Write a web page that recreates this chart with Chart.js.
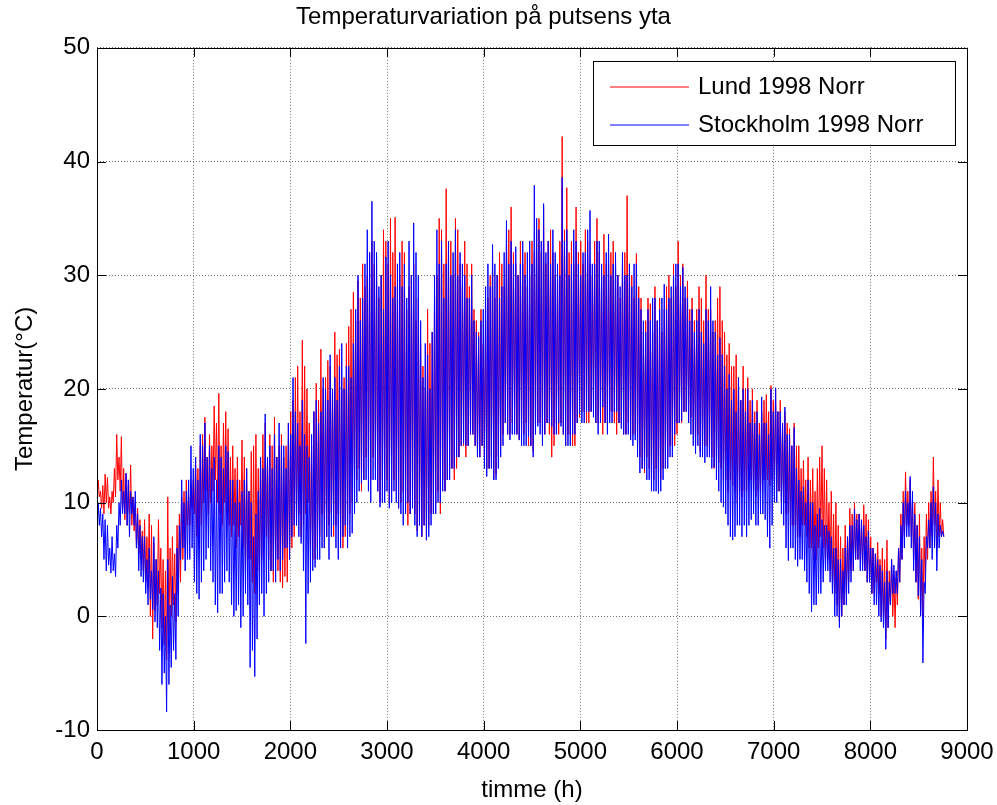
<!DOCTYPE html>
<html>
<head>
<meta charset="utf-8">
<script src="https://cdn.jsdelivr.net/npm/chart.js@4.4.1/dist/chart.umd.min.js"></script>
<style>
    html, body { margin: 0; padding: 0; background: #fff; }
    canvas { display: block; }
</style>
</head>
<body>
<canvas id="chart" width="997" height="805"></canvas>
<script>
const stepHours = 12;

const lund = [
    10, 12, 10.5, 11, 9.5, 11.5, 9, 12.5, 10, 12.2, 9.5, 10.5, 9, 11, 10, 13, 10.5, 16, 12, 14,
    11, 15.8, 9, 13, 8.5, 12.5, 8, 11.5, 9, 13.3, 8, 10.5, 7.5, 10, 6, 9.5, 5.5, 8.5, 5, 7.5,
    4, 8.5, 3, 7, 2.5, 9, 0, 8, -2, 6.5, 0.5, 5, 1, 8.5, 2, 6, -1, 5, -2.5, 4,
    -3.8, 10.5, -1.5, 6, 0, 7, 1, 5.5, -0.5, 8, 2, 9, 3, 10.5, 5, 11, 6, 12, 8, 10.5,
    8, 11.5, 9.5, 12, 9, 14, 7, 13, 6, 15, 8, 16, 10, 17.5, 11, 14, 9, 16, 10, 15,
    11, 18.5, 12, 17, 10, 19.6, 9, 15, 8, 17, 10, 18, 9, 16.5, 8, 14, 7, 15, 8, 13,
    6, 14, 7, 12, 8, 15.5, 6, 14, 4, 13, 5, 11, 5, 14.5, 3, 15, 2, 16, 4, 13,
    4, 14, 5, 16, 6, 17, 7, 14, 5, 16, 4, 15, 3, 17.5, 5, 14, 4, 15, 3, 16,
    2.5, 14, 3.5, 15, 3, 17, 5, 18, 6, 19, 7, 21, 8, 22, 9, 18, 7, 24.3, 8, 22,
    9, 20, 10, 17, 6, 15, 5, 18, 5, 20.5, 6, 19, 7, 23.5, 9, 20, 6, 21, 7, 22.5,
    8, 22, 9, 20, 7, 25, 8, 23, 9, 23.5, 7, 20, 6, 21, 7, 24, 8, 25.5, 9, 27,
    10, 28.5, 12, 26, 12, 29.5, 13, 28, 11, 31, 12, 29, 14, 30, 13, 32, 12, 33, 14, 31,
    13, 31, 11, 28, 10, 30, 12, 34, 11, 33, 12, 31, 10, 35, 11, 32, 12, 35.1, 11, 29,
    9.5, 30, 10, 33, 11, 32, 9, 27, 8, 29, 9, 30, 10, 31, 9, 26, 7.5, 28, 8, 24,
    7, 22, 8, 20, 6.7, 27, 8, 24, 9, 25, 9, 28, 10, 30, 11, 35, 9, 34, 12, 31,
    11, 37.6, 12, 32, 13, 33, 13, 30, 12, 35, 13, 34, 14, 31, 15, 29, 15, 33, 14, 31,
    15, 29, 16, 31, 16, 27, 15, 26, 14, 25, 14, 27, 15, 24, 14, 26, 13, 28, 13, 30,
    14, 32, 12, 28, 12.5, 30, 14, 32, 15, 31, 16, 29, 17, 33, 16, 34, 16, 36, 17, 32,
    17, 31, 16, 30, 15.5, 33, 16, 31, 16, 32, 17, 29, 15, 30, 15, 33, 14.5, 32, 16, 34,
    17, 35, 17, 32, 16, 36, 16, 31, 17, 33, 16, 34, 14, 32, 15, 30, 17, 30, 16, 33,
    17, 42.2, 16, 34, 15, 37.7, 16, 32, 16, 33, 15, 31, 15, 36, 17, 32, 17.5, 33, 18, 31,
    18, 34, 17, 33, 17, 31, 18, 30, 18.5, 33, 17, 35, 17, 32, 18, 30, 16, 33.6, 17, 31,
    17, 31, 18, 32, 18, 33, 17, 31, 16, 30, 17, 28, 17, 31, 16, 32, 16, 37, 17, 31,
    15.5, 30, 16, 28, 16, 31.9, 15, 29, 14, 28, 13, 25, 12.6, 26, 14, 28, 13, 27.5, 12, 25,
    12, 29, 13, 26, 11.5, 28, 12, 25, 13, 27, 13, 29, 14, 30, 15, 28, 15, 31, 15, 29,
    16, 33, 17, 30, 17, 31, 18, 28, 18, 29.5, 17, 27, 17.5, 28, 16, 26, 15, 27, 16, 29,
    14.5, 28, 15, 26, 15, 30, 15, 27, 14, 27, 14, 25, 13, 26, 14, 28, 13.5, 29, 13, 26,
    12, 25, 12, 23, 11, 24, 12, 22, 11.5, 22, 11, 23, 10, 21, 11, 19, 10.5, 22, 11, 20,
    11, 21, 12, 19, 12, 20, 11, 18, 10.5, 19, 11, 17, 11, 18, 12, 19, 12, 19.5, 12, 18,
    11.5, 20.3, 12, 19, 12, 20, 11, 18, 11, 19, 10, 17, 10, 18, 9, 17, 9, 16.5, 8, 15,
    8, 17, 8, 15, 7, 15, 7, 13, 8, 13.7, 8, 12, 7, 14, 6, 12, 6, 13, 5, 11,
    5, 13, 6, 14, 7, 15, 6, 13, 5, 12, 5, 10, 4, 11, 3, 9, 2, 10, 1, 8,
    -0.4, 7, 0, 6, 1, 8, 2, 7, 3, 9.5, 4, 9, 4, 10, 5, 9, 5, 9, 5, 8,
    4.5, 9.8, 4, 9, 3, 8.5, 3, 7, 2, 6, 2, 5.5, 3, 6.5, 2, 5, 0, 6, 0, 5,
    -2, 6.7, -1, 4, 1, 5, 0, 3.5, -1, 4, 1, 6, 3, 9, 5, 11, 7, 12.7, 8, 11,
    8, 12, 7, 10, 5, 10, 3, 8, 1.5, 9, 0.5, 6, 0, 7, 3, 9, 5, 10, 6, 11,
    7, 14, 8, 11, 6, 12, 7, 10, 7, 8.5, 7
];

const stockholm = [
    8, 10, 8, 9.5, 7, 9, 5, 8.5, 4, 8, 4.5, 6, 3.8, 7, 4, 5.5, 3.5, 8, 6, 10,
    8, 12, 9, 11, 9, 12.6, 8, 12, 7, 11, 9, 10.5, 8, 11, 6, 9, 4, 8, 3.5, 7,
    3, 7, 2, 5, 1, 6, 1.5, 4, 0.6, 7, -0.5, 5, -1, 4, -3, 2.5, -6, 2, -5, 0,
    -8.4, 5, -6, 1, -4.5, 3.5, -3, 2, -3.8, 6, 0, 8, 5, 12, 6, 10, 4, 11, 5, 12,
    5, 15, 6, 13, 3, 14, 2, 12, 1.5, 16, 3, 15, 4, 17, 5, 14, 6, 15, 4, 13,
    3, 14, 1, 12, 0.3, 15, 2, 14, 2, 13, 3, 15, 4, 14.5, 3, 12, 1, 12, 0, 10,
    0.5, 12, 1, 10, -1, 11, 0, 12, 2, 13, 1, 11, -4.5, 10, -3, 7, -5.3, 9, -2, 11,
    1, 14, 2, 13, 0, 17.8, 2, 14, 3, 15, 4, 13, 4, 16, 3, 14, 5, 17, 4, 15,
    5, 15, 6, 13, 6, 17, 5, 16, 7, 21, 8, 18, 8, 17, 7, 15, 6.4, 19, 4, 16,
    -2.4, 15, 2, 14, 3, 16, 4, 18, 4.3, 19, 5, 17, 5, 18, 6, 21, 6, 20, 7, 19,
    5, 23, 7, 20, 8, 21, 6, 19, 5, 22, 6, 24, 7, 20, 8, 22, 6, 22, 7, 21,
    7.3, 24, 9, 27, 10, 30, 11, 26, 11.7, 28, 12, 31, 12, 34, 11, 32, 10, 36.5, 12, 33,
    12, 32, 11, 29, 9.6, 30, 10, 27, 10, 31.6, 11, 33, 9.5, 30, 10, 28, 11, 29, 10, 31,
    9.5, 32, 9, 29, 8, 31, 9, 28, 10, 33, 9, 30, 9.5, 34.6, 8, 32, 7, 30, 8, 26,
    7, 21, 8, 24, 6.7, 23, 7, 20, 8, 25, 9, 30, 9, 34, 10, 31, 10, 33, 11, 28,
    11, 31, 12, 33, 12, 30, 13, 32, 13, 34, 14, 30, 14, 32, 15, 31, 15.2, 30, 15, 28,
    15, 28, 16, 30, 16, 26, 15, 25, 14, 24.6, 14, 26, 15, 27, 13, 29, 12.3, 31, 13, 29,
    13, 32.7, 12, 31, 12, 30, 13, 28, 14, 29, 15, 32, 17, 34.8, 16, 31, 15.5, 33, 16, 31,
    16, 32.5, 16, 30, 15.5, 31, 15, 33, 15, 30, 15, 32, 15.8, 33, 15, 31, 14, 37.9, 16, 35,
    16.7, 34, 16, 33, 15, 36.3, 16, 32, 17, 33, 17, 31, 16.7, 34, 16, 32, 16, 31, 17, 30,
    16.7, 38.6, 16, 33, 15, 34, 15, 30, 15, 31, 16, 34, 16, 33, 17, 31, 17.8, 30, 17, 32,
    17, 32, 18, 34, 18, 35.7, 18, 31, 17.5, 31, 17, 33, 16, 33, 17, 31, 18.4, 30, 17, 32,
    16, 33.6, 17, 30, 17, 31, 18, 32, 18, 30, 17, 29, 16.5, 32, 16, 30, 16, 30, 16, 31,
    15.5, 29, 15, 31, 15.5, 31, 14, 28, 12.6, 27, 13, 26, 13, 25, 12, 27, 12, 26, 11, 28,
    11, 28, 11, 26, 10.8, 27, 11, 28, 12, 29.2, 13, 27, 13, 28, 14, 29, 14, 30, 16, 31,
    17, 31, 17, 29, 17.2, 30.7, 18, 29, 18, 28, 17, 26, 16, 27, 15, 25, 14.3, 26, 15, 27,
    14, 25, 14, 24, 13.5, 27, 14, 26, 14, 29, 13, 26, 13.1, 25, 12, 23, 11, 24.5, 10, 23,
    9.6, 22, 9, 20, 8, 21.3, 7, 19, 6.7, 20, 7, 18, 8, 21, 8, 19, 7, 20, 8, 18,
    7, 20, 8, 17, 8.5, 19, 9, 17, 8, 18, 8, 16, 9, 19.3, 9, 17, 8.5, 17, 7, 16,
    6, 20, 8, 18, 10, 20.1, 10, 18, 11, 18, 9, 17, 8, 18.4, 6, 16, 4.9, 16, 6, 15,
    6, 16.6, 5, 13, 4.4, 12, 5, 11, 5, 11.4, 4, 10, 3, 12, 2, 10, 0.4, 10, 1, 8,
    1, 9, 2, 9.5, 2, 8.5, 3, 8, 4, 8, 4, 7.5, 3, 7, 2, 6, 0, 6, 0, 5,
    -1, 5, 0, 4, 1, 6, 1, 7, 2, 8, 3, 8, 4, 9.4, 5, 8.5, 5, 9, 4, 8.5,
    4, 8, 4, 7, 3, 7.5, 3, 6, 2, 6, 1, 5.5, 1, 5, 0, 4.5, -0.5, 4, -1, 3,
    -2.9, 4, -1, 3, 1, 5, 2, 4.5, 2, 4, 2, 6, 3, 8, 5, 10, 6, 11, 7, 10,
    7, 12.3, 6, 11, 4, 9, 3, 8, 1.8, 7, 0, 5, -4.1, 3, 2, 7, 6, 8.5, 6, 10,
    5, 11.4, 6, 10, 4, 9, 6, 8, 7, 7.5, 7
];

const seriesLabels = ["Lund 1998 Norr", "Stockholm 1998 Norr"];
const seriesColors = ["#ff0000", "#0000ff"];
const xTicks = [0, 1000, 2000, 3000, 4000, 5000, 6000, 7000, 8000, 9000];
const yTicks = [-10, 0, 10, 20, 30, 40, 50];

const fontFamily = "'Liberation Sans', Arial, Helvetica, sans-serif";

(function() {
    Chart.defaults.color = "#000";
    Chart.defaults.font.family = fontFamily;

    function toPoints(values) {
        return values.map((v, i) => ({ x: i * stepHours, y: v }));
    }

    // box, inward ticks on all four sides and the legend, drawn over the lines
    const frame = {
        id: "frame",
        afterDatasetsDraw(chart) {
            const ctx = chart.ctx;
            const area = chart.chartArea;
            const xs = chart.scales.x;
            const ys = chart.scales.y;
            const tick = 9;

            ctx.save();
            ctx.strokeStyle = "#000";
            ctx.lineWidth = 1;
            ctx.setLineDash([]);
            ctx.beginPath();
            for (let t of xTicks) {
                const px = Math.round(xs.getPixelForValue(t)) + 0.5;
                ctx.moveTo(px, area.bottom);
                ctx.lineTo(px, area.bottom - tick);
                ctx.moveTo(px, area.top);
                ctx.lineTo(px, area.top + tick);
            }
            for (let t of yTicks) {
                const py = Math.round(ys.getPixelForValue(t)) + 0.5;
                ctx.moveTo(area.left, py);
                ctx.lineTo(area.left + tick, py);
                ctx.moveTo(area.right, py);
                ctx.lineTo(area.right - tick, py);
            }
            ctx.stroke();
            ctx.strokeRect(Math.round(area.left) + 0.5, Math.round(area.top) + 0.5,
                Math.round(area.right - area.left), Math.round(area.bottom - area.top));

            // legend
            const lx = 593, ly = 61, lw = 362, lh = 84;
            ctx.fillStyle = "#fff";
            ctx.fillRect(lx, ly, lw, lh);
            ctx.strokeRect(lx + 0.5, ly + 0.5, lw, lh);
            ctx.font = "24px " + fontFamily;
            ctx.textBaseline = "middle";
            ctx.textAlign = "left";
            const rows = [87, 125];
            seriesLabels.forEach((label, i) => {
                ctx.strokeStyle = seriesColors[i];
                ctx.beginPath();
                ctx.moveTo(610, rows[i]);
                ctx.lineTo(689, rows[i]);
                ctx.stroke();
                ctx.fillStyle = "#000";
                ctx.fillText(label, 698, rows[i]);
            });
            ctx.restore();
        }
    };

    const gridStyle = {
        color: "rgba(0, 0, 0, 0.55)",
        lineWidth: 1,
        drawTicks: false
    };

    new Chart(document.getElementById("chart"), {
        type: "line",
        data: {
            datasets: [
                {
                    label: seriesLabels[0],
                    data: toPoints(lund),
                    borderColor: seriesColors[0],
                    order: 2
                },
                {
                    label: seriesLabels[1],
                    data: toPoints(stockholm),
                    borderColor: seriesColors[1],
                    order: 1
                }
            ]
        },
        options: {
            responsive: false,
            animation: false,
            devicePixelRatio: 1,
            events: [],
            layout: { padding: { left: 0, right: 30, top: 0, bottom: 0 } },
            elements: {
                point: { radius: 0 },
                line: { borderWidth: 1, tension: 0, borderJoinStyle: "bevel", fill: false }
            },
            plugins: {
                legend: { display: false },
                tooltip: { enabled: false },
                title: {
                    display: true,
                    text: "Temperaturvariation på putsens yta",
                    font: { size: 24, weight: "normal" },
                    color: "#000",
                    padding: { top: 3, bottom: 16 }
                }
            },
            scales: {
                x: {
                    type: "linear",
                    min: 0,
                    max: 9000,
                    afterBuildTicks: (scale) => { scale.ticks = xTicks.map((v) => ({ value: v })); },
                    afterFit: (scale) => {
                        scale.height = 75;
                        scale.paddingLeft = 0;
                        scale.paddingRight = 0;
                    },
                    grid: gridStyle,
                    border: { display: false, dash: [1, 2] },
                    ticks: { padding: 8, font: { size: 24 }, maxRotation: 0, callback: (v) => String(v) },
                    title: {
                        display: true,
                        text: "timme (h)",
                        font: { size: 24 },
                        padding: { top: 4, bottom: 0 }
                    }
                },
                y: {
                    type: "linear",
                    min: -10,
                    max: 50,
                    afterBuildTicks: (scale) => { scale.ticks = yTicks.map((v) => ({ value: v })); },
                    afterFit: (scale) => { scale.width = 97; },
                    grid: gridStyle,
                    border: { display: false, dash: [1, 2] },
                    ticks: { padding: 7, font: { size: 24 }, callback: (v) => String(v) },
                    title: {
                        display: true,
                        text: "Temperatur(°C)",
                        font: { size: 24 },
                        padding: { top: 11, bottom: 0 }
                    }
                }
            }
        },
        plugins: [frame]
    });
})();
</script>
</body>
</html>
